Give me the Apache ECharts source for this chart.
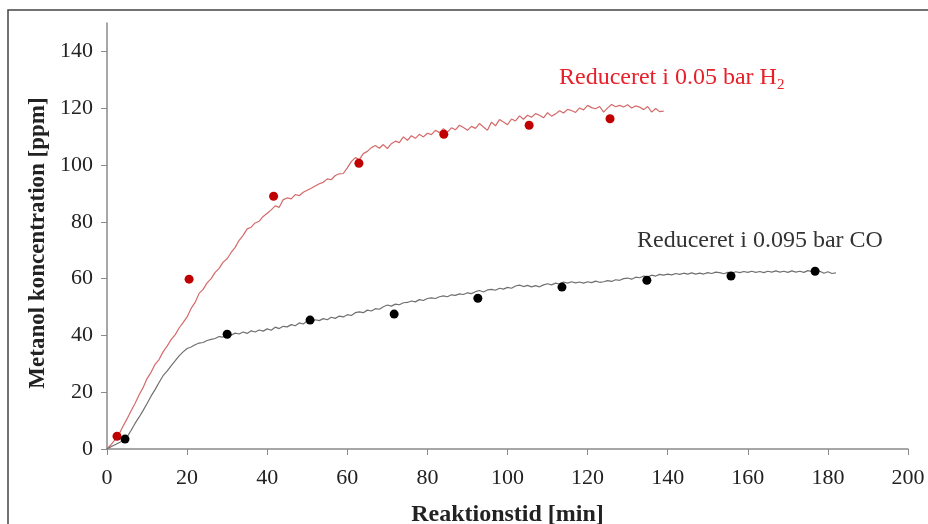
<!DOCTYPE html>
<html>
<head>
<meta charset="utf-8">
<script src="https://cdn.jsdelivr.net/npm/echarts@6/dist/echarts.min.js"></script>
<style>
  html, body { margin: 0; padding: 0; background: #fff; }
  #chart { width: 928px; height: 524px; }
</style>
</head>
<body>
<div id="chart"></div>
<script>
// tick labels
var xTicks = [0, 20, 40, 60, 80, 100, 120, 140, 160, 180, 200];
var yTicks = [0, 20, 40, 60, 80, 100, 120, 140];

var h2Line = [
  0, 1.5, 3.2, 5.2, 8, 10.6, 13.4, 16, 19, 21.6,
  24.8, 27, 29.8, 31.5, 34.2, 36.2, 38.5, 40.2, 42.6, 44.5,
  46.5, 49.5, 51.6, 54.8, 56.2, 58.5, 60, 62.2, 63.6, 65.8,
  67, 69.2, 71, 73.5, 75.2, 77.5, 78.1, 79.6, 80.2, 81.9,
  83, 84.2, 85.6, 85.1, 87.8, 88.4, 88.1, 89.6, 89.2, 90.4,
  91.1, 91.8, 92.6, 93.4, 93.9, 95.1, 94.8, 96.3, 96.9, 97,
  99, 101.2, 102.6, 101.9, 104, 104.8, 106.1, 106.9, 105.9, 107.2,
  105.8, 107.5, 108.4, 107.9, 109.9, 108.7, 110.3, 109.4, 110.8, 109.9,
  111.2, 110.7, 112.2, 111.4, 112.8, 111.6, 113.1, 112.4, 114, 113.2,
  112.2, 113.6, 112.9, 114.6, 113.4, 112.2, 115.1, 113.8, 116, 115.1,
  114.2, 116.2, 115.5, 117.3, 116.1, 117.5, 116.8, 118.1, 117.5, 116.6,
  118.4, 117.2, 118, 119.1, 118.3, 119.6, 119.2, 118.5, 120.1, 119.4,
  121, 120.2, 119.8, 120.6, 118.6, 120.1, 121.3, 120.5, 121, 120.4,
  121.2, 120.1, 120.8, 120.4, 119.5, 120.6, 118.6, 119.9, 118.8, 119
];
var coLine = [
  0, 0.8, 1.5, 2.2, 2.9, 4.2, 6.5, 9, 11.2, 13.5,
  16, 18.6, 20.9, 23.4, 25.8, 27.4, 29.3, 31, 32.8, 34.2,
  35.4, 35.9, 36.7, 37.3, 37.5, 38.2, 38.6, 38.9, 39.6, 39.4,
  40.3, 40.1, 40.8, 40.5, 41.2, 40.7, 41.6, 41.2, 41.9, 41.5,
  42.3, 41.8, 42.9, 42.4, 43.2, 43, 43.8, 43.4, 44.4, 44,
  45.1, 44.7, 45.5, 45.2, 45.9, 45.5, 46.4, 46, 46.8, 46.5,
  47.3, 47, 48, 48.3, 48, 48.9, 48.6, 49.4, 49.2, 50.1,
  50.7, 50.3, 51, 50.8, 51.5, 51.6, 52.1, 51.8, 52.6, 52.3,
  53, 53.2, 53, 53.6, 53.9, 53.6, 54.3, 54.1, 54.6, 54.4,
  55, 54.7, 55.4, 55.8, 55.3, 56, 56.2, 55.9, 56.6, 56.3,
  56.9, 56.6, 57.4, 57.7, 57.2, 57.6, 57.1, 57.5, 57.1, 57.8,
  58.2, 57.8, 58.4, 58.1, 58.8, 58.4, 58.9, 58.5, 58.8, 58.4,
  58.9, 58.6, 59.1, 58.7, 58.9, 59.3, 59, 59.6, 59.4, 60,
  60.2, 59.8, 60.5, 60.3, 60.9, 60.6, 61.2, 60.9, 61.5, 61.2,
  61.6, 61.3, 61.8, 61.5, 61.9, 61.6, 62, 61.6, 61.9, 61.6,
  62.1, 61.8, 62.3, 62.1, 61.7, 62.2, 61.9, 62.4, 62.1, 62.5,
  62.2, 62.6, 62.2, 62.5, 62.1, 62.6, 62.3, 62.7, 62.3, 62.6,
  62.2, 62.7, 62.3, 62.6, 62.2, 62.8, 62.5, 63, 62.6, 61.9,
  62.4, 61.8, 62
];

// sampled points
var h2Time = [2.5, 20.5, 41.6, 62.9, 84.1, 105.4, 125.6];
var h2Conc = [4.5, 59.8, 89, 100.6, 110.8, 114, 116.3];
var coTime = [4.5, 30, 50.7, 71.7, 92.6, 113.6, 134.8, 155.8, 176.8];
var coConc = [3.5, 40.4, 45.4, 47.5, 53.1, 57, 59.4, 60.9, 62.6];

function toPairs(xs, ys) {
  var out = [];
  for (var i = 0; i < xs.length; i++) out.push([xs[i], ys[i]]);
  return out;
}
function perMinute(vals) {
  var out = [];
  vals.forEach(function (v, i) { out.push([i, v]); });
  return out;
}

var chart = echarts.init(document.getElementById('chart'));
var font = '"Liberation Serif", "Times New Roman", serif';

var option = {
  animation: false,
  backgroundColor: '#fff',
  grid: { left: 107, right: 20, top: 23, bottom: 75, containLabel: false, outerBoundsMode: 'none' },
  xAxis: {
    type: 'value',
    min: 0,
    max: 200,
    interval: 20,
    name: 'Reaktionstid [min]',
    nameLocation: 'middle',
    nameGap: 54,
    nameTextStyle: { fontFamily: font, fontSize: 24, fontWeight: 'bold', color: '#222' },
    axisLine: { show: true, lineStyle: { color: '#8a8a8a', width: 1.5 } },
    axisTick: { show: true, length: 6, lineStyle: { color: '#8a8a8a' }, customValues: xTicks },
    axisLabel: { fontFamily: font, fontSize: 22, color: '#222', margin: 18, customValues: xTicks },
    splitLine: { show: false }
  },
  yAxis: {
    type: 'value',
    min: 0,
    max: 150,
    name: 'Metanol koncentration [ppm]',
    nameLocation: 'middle',
    nameGap: 57,
    nameTextStyle: { fontFamily: font, fontSize: 23, fontWeight: 'bold', color: '#222', padding: [0, 14, 0, 0] },
    axisLine: { show: true, lineStyle: { color: '#8a8a8a', width: 1.5 } },
    axisTick: { show: true, length: 6, lineStyle: { color: '#8a8a8a' }, customValues: yTicks },
    axisLabel: { fontFamily: font, fontSize: 22, color: '#222', margin: 14, customValues: yTicks },
    splitLine: { show: false }
  },
  series: [
    {
      type: 'line',
      data: perMinute(h2Line),
      showSymbol: false,
      lineStyle: { color: '#d46a6a', width: 1.2 },
      z: 2
    },
    {
      type: 'line',
      data: perMinute(coLine),
      showSymbol: false,
      lineStyle: { color: '#707070', width: 1.2 },
      z: 2
    },
    {
      type: 'scatter',
      data: toPairs(h2Time, h2Conc),
      symbolSize: 9,
      itemStyle: { color: '#c00000', opacity: 1 },
      z: 3
    },
    {
      type: 'scatter',
      data: toPairs(coTime, coConc),
      symbolSize: 9,
      itemStyle: { color: '#000', opacity: 1 },
      z: 3
    }
  ],
  graphic: [
    {
      type: 'rect',
      shape: { x: 8, y: 10, width: 940, height: 540 },
      style: { fill: 'none', stroke: '#444', lineWidth: 1.5 },
      silent: true
    },
    {
      type: 'text',
      left: 559,
      top: 66,
      style: {
        text: 'Reduceret i 0.05 bar H{s|2}',
        font: '24px ' + font,
        fill: '#e8202a',
        rich: { s: { fontSize: 15, fontFamily: font, fill: '#e8202a', padding: [14, 0, 0, 0] } }
      }
    },
    {
      type: 'text',
      left: 637,
      top: 229,
      style: { text: 'Reduceret i 0.095 bar CO', font: '24px ' + font, fill: '#333' }
    }
  ]
};
chart.setOption(option);
</script>
</body>
</html>
